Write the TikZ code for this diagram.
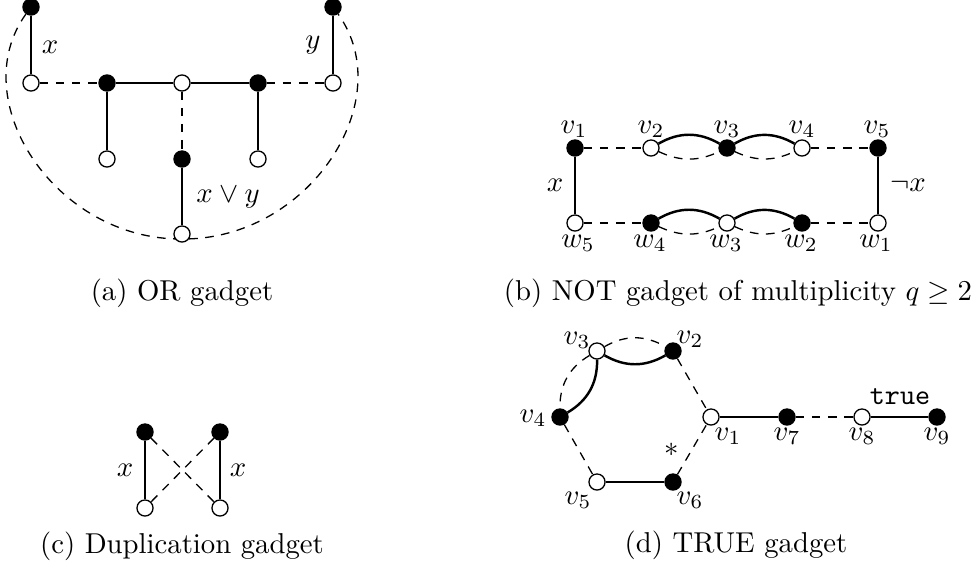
\documentclass[tikz,border=0pt]{standalone}
\usetikzlibrary{backgrounds}
\begin{document}
\begin{tikzpicture}[x=0.348pt,y=-0.348pt,
  vtx/.style={circle,draw,line width=0.45pt,inner sep=0pt,minimum size=5.6pt},
  bn/.style={vtx,fill=black},
  wn/.style={vtx,fill=white},
  sol/.style={line width=0.85pt},
  dsh/.style={dash pattern=on 3pt off 2.6pt,line width=0.45pt},
  lab/.style={inner sep=0pt}]
\useasboundingbox (0,0) rectangle (977,571);

% ---------- (a) OR gadget ----------
\node[bn] (atl) at (31,7) {};
\node[wn] (al1) at (31,83) {};
\node[bn] (ab1) at (107,83) {};
\node[wn] (ac) at (182,83) {};
\node[bn] (ab2) at (258,83) {};
\node[wn] (ar1) at (333,83) {};
\node[bn] (atr) at (333,7) {};
\node[wn] (aw1) at (107,159) {};
\node[bn] (ab3) at (182,159) {};
\node[wn] (aw2) at (258,159) {};
\node[wn] (abot) at (182,234) {};
\coordinate (abc) at (182,239);
\node[lab] (alx) at (50,47) {$x$};
\node[lab] (aly) at (313,45) {$y$};
\node[lab] (alor) at (228,197) {$x\vee y$};
\node[lab] (capa) at (182,293) {(a) OR gadget};
\begin{pgfonlayer}{background}
\draw[sol] (atl) -- (al1);
\draw[sol] (atr) -- (ar1);
\draw[dsh] (al1) -- (ab1);
\draw[sol] (ab1) -- (ac) -- (ab2);
\draw[dsh] (ab2) -- (ar1);
\draw[sol] (ab1) -- (aw1);
\draw[sol] (ab2) -- (aw2);
\draw[dsh] (ac) -- (ab3);
\draw[sol] (ab3) -- (abot);
\draw[dsh] (atl) .. controls (-36,100) and (55,240) .. (abc)
  .. controls (309,240) and (400,100) .. (atr);
\end{pgfonlayer}

% ---------- (b) NOT gadget ----------
\node[bn] (bv1) at (575,148) {};
\node[wn] (bv2) at (651,148) {};
\node[bn] (bv3) at (727,148) {};
\node[wn] (bv4) at (802,148) {};
\node[bn] (bv5) at (878,148) {};
\node[wn] (bw5) at (575,223) {};
\node[bn] (bw4) at (651,223) {};
\node[wn] (bw3) at (727,223) {};
\node[bn] (bw2) at (802,223) {};
\node[wn] (bw1) at (878,223) {};
\node[lab] (lbv1) at (574,129) {$v_1$};
\node[lab] (lbv2) at (651,129) {$v_2$};
\node[lab] (lbv3) at (727,129) {$v_3$};
\node[lab] (lbv4) at (802,129) {$v_4$};
\node[lab] (lbv5) at (877,129) {$v_5$};
\node[lab] (lbw5) at (578,243) {$w_5$};
\node[lab] (lbw4) at (650,243) {$w_4$};
\node[lab] (lbw3) at (726,243) {$w_3$};
\node[lab] (lbw2) at (801,243) {$w_2$};
\node[lab] (lbw1) at (876,243) {$w_1$};
\node[lab] (lbx) at (555,185) {$x$};
\node[lab] (lbnx) at (908,185) {$\neg x$};
\node[lab] (capb) at (738,293) {(b) NOT gadget of multiplicity $q\geq 2$};
\draw[dsh] (bv1) -- (bv2);
\draw[sol] (bv2) to[bend left=30] (bv3);
\draw[dsh] (bv2) to[bend right=25] (bv3);
\draw[sol] (bv3) to[bend left=30] (bv4);
\draw[dsh] (bv3) to[bend right=25] (bv4);
\draw[dsh] (bv4) -- (bv5);
\draw[sol] (bv1) -- (bw5);
\draw[sol] (bv5) -- (bw1);
\draw[dsh] (bw5) -- (bw4);
\draw[sol] (bw4) to[bend left=30] (bw3);
\draw[dsh] (bw4) to[bend right=25] (bw3);
\draw[sol] (bw3) to[bend left=30] (bw2);
\draw[dsh] (bw3) to[bend right=25] (bw2);
\draw[dsh] (bw2) -- (bw1);

% ---------- (c) Duplication gadget ----------
\node[bn] (cb1) at (145,432) {};
\node[wn] (cw1) at (145,508) {};
\node[bn] (cb2) at (220,432) {};
\node[wn] (cw2) at (220,508) {};
\node[lab] (clx1) at (125,470) {$x$};
\node[lab] (clx2) at (238,470) {$x$};
\node[lab] (capc) at (182,546) {(c) Duplication gadget};
\draw[sol] (cb1) -- (cw1);
\draw[sol] (cb2) -- (cw2);
\draw[dsh] (cb1) -- (cw2);
\draw[dsh] (cb2) -- (cw1);

% ---------- (d) TRUE gadget ----------
\node[wn] (dv1) at (711,417) {};
\node[bn] (dv2) at (673,351) {};
\node[wn] (dv3) at (597,351) {};
\node[bn] (dv4) at (560,417) {};
\node[wn] (dv5) at (597,482) {};
\node[bn] (dv6) at (673,482) {};
\node[bn] (dv7) at (787,417) {};
\node[wn] (dv8) at (862,417) {};
\node[bn] (dv9) at (937,417) {};
\node[lab] (ldv1) at (728,436) {$v_1$};
\node[lab] (ldv2) at (690,339) {$v_2$};
\node[lab] (ldv3) at (577,340) {$v_3$};
\node[lab] (ldv4) at (533,418) {$v_4$};
\node[lab] (ldv5) at (578,500) {$v_5$};
\node[lab] (ldv6) at (690,500) {$v_6$};
\node[lab] (ldv7) at (787,436) {$v_7$};
\node[lab] (ldv8) at (862,436) {$v_8$};
\node[lab] (ldv9) at (937,436) {$v_9$};
\node[lab] (ldtrue) at (900,397) {\texttt{true}};
\node[lab] (ldstar) at (672,450) {$*$};
\node[lab] (capd) at (736,545) {(d) TRUE gadget};
\draw[dsh] (dv3) to[bend left=30] (dv2);
\draw[sol] (dv3) to[bend right=30] (dv2);
\draw[sol] (dv3) to[bend left=30] (dv4);
\draw[dsh] (dv3) to[bend right=30] (dv4);
\draw[dsh] (dv2) -- (dv1);
\draw[dsh] (dv4) -- (dv5);
\draw[sol] (dv5) -- (dv6);
\draw[dsh] (dv6) -- (dv1);
\draw[sol] (dv1) -- (dv7);
\draw[dsh] (dv7) -- (dv8);
\draw[sol] (dv8) -- (dv9);
\end{tikzpicture}
\end{document}
